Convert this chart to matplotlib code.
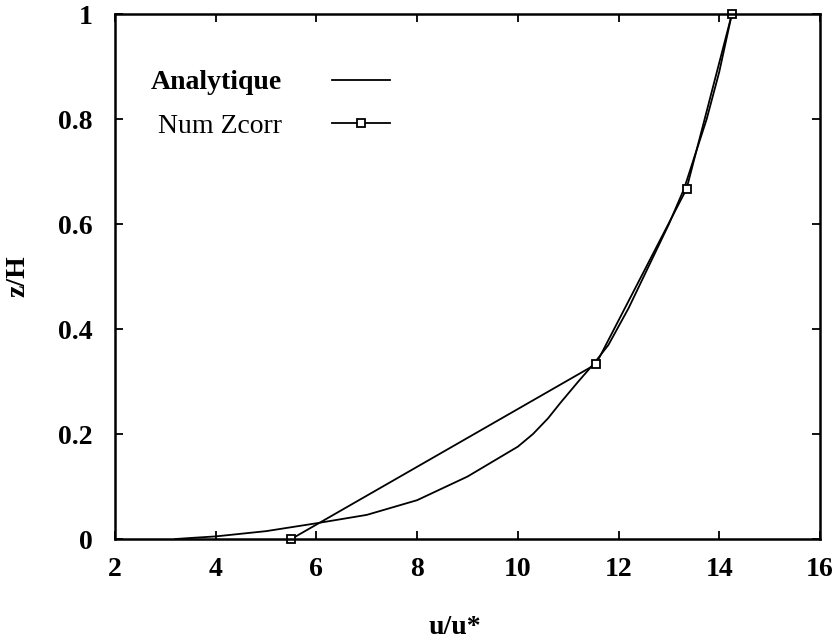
import matplotlib
matplotlib.use("Agg")
import matplotlib.pyplot as plt

# Analytic profile
ana_u = [3.2, 3.5, 4.0, 5.0, 6.0, 7.0, 8.0, 9.0, 10.0, 10.3, 10.6, 10.85, 11.2, 11.5,
         11.8, 12.2, 12.7, 13.0, 13.3, 13.75, 14.0, 14.25]
ana_z = [0.0, 0.002, 0.005, 0.015, 0.03, 0.046, 0.074, 0.119, 0.176, 0.2, 0.23, 0.26, 0.3, 0.333,
         0.37, 0.44, 0.54, 0.6, 0.667, 0.80, 0.89, 1.0]

# Numerical Zcorr
num_u = [5.5, 11.55, 13.35, 14.25]
num_z = [0.0, 0.333, 0.667, 1.0]

xticks = [2, 4, 6, 8, 10, 12, 14, 16]
yticks = [0, 0.2, 0.4, 0.6, 0.8, 1]
ytick_labels = ["0", "0.2", "0.4", "0.6", "0.8", "1"]

plt.rcParams['font.family'] = ['Liberation Serif', 'DejaVu Serif']

fig = plt.figure(figsize=(8.35, 6.44), dpi=100)
ax = fig.add_axes([0.1377, 0.163, 0.8443, 0.815])

ax.plot(ana_u, ana_z, color='black', lw=1.3, label='Analytique')
ax.plot(num_u, num_z, color='black', lw=1.3, marker='s', ms=6, mfc='white',
        mec='black', mew=1.3, label='Num Zcorr', clip_on=False)

ax.set_xlim(2, 16)
ax.set_ylim(0, 1)
ax.set_xticks(xticks)
ax.set_xticklabels([str(t) for t in xticks], fontsize=20, fontweight='bold')
ax.set_yticks(yticks)
ax.set_yticklabels(ytick_labels, fontsize=20, fontweight='bold')
ax.tick_params(direction='in', top=True, right=True, length=6, width=1.3)
ax.tick_params(axis='x', pad=13)
ax.tick_params(axis='y', pad=16)
for s in ax.spines.values():
    s.set_linewidth(1.8)

ax.set_xlabel('u/u*', fontsize=20, fontweight='bold')
ax.set_ylabel('z/H', fontsize=20, fontweight='bold')
ax.xaxis.set_label_coords(0.482, -0.145)
ax.yaxis.set_label_coords(-0.12, 0.5)

leg = ax.legend(loc='upper left', bbox_to_anchor=(0.035, 0.915), frameon=False,
                markerfirst=False, handlelength=2.1, fontsize=20,
                labelspacing=0.64, handletextpad=1.8, borderaxespad=0)
leg.get_texts()[0].set_fontweight('bold')

fig.savefig('out.png', dpi=100)
